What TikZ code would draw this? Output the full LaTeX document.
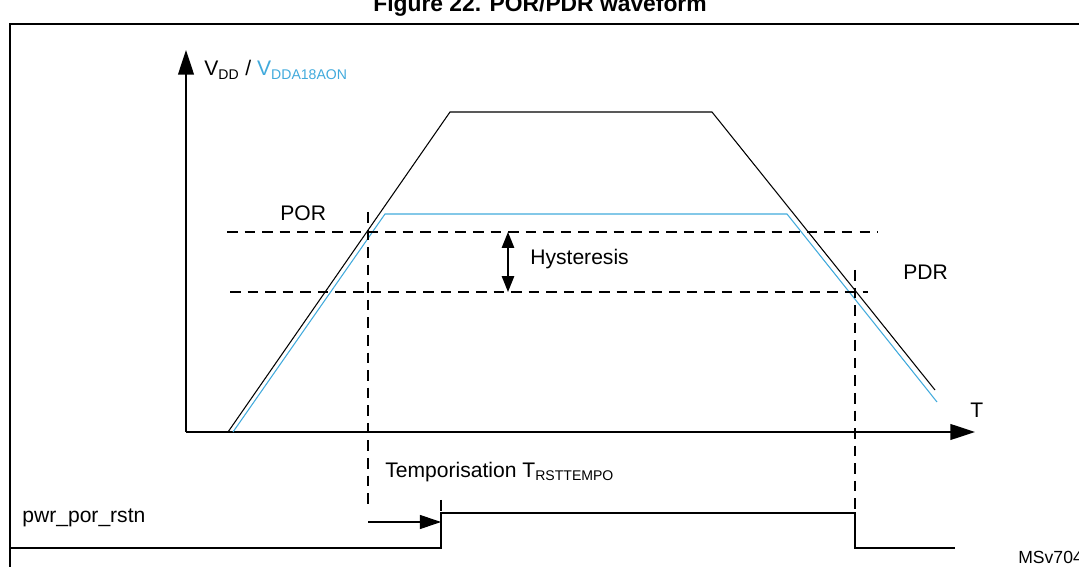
\documentclass[tikz,border=0pt]{standalone}
\usepackage{fontspec}
\setmainfont{Liberation Sans}
\usetikzlibrary{arrows.meta}
\definecolor{vblue}{RGB}{65,170,220}
\begin{document}
\begin{tikzpicture}[x=0.02cm,y=-0.02cm,
  wave/.style={line width=0.6pt},
  dsh/.style={line width=0.6pt,dash pattern=on 6pt off 4pt},
  axis/.style={line width=0.8pt,-{Triangle[length=14pt,width=9pt]}},
  lbl/.style={font=\fontsize{12pt}{14pt}\selectfont,inner sep=0pt}]
\useasboundingbox (0,0) rectangle (1079,567);
\begin{scope}
\clip (0,0) rectangle (1079,567);
\node[font=\bfseries\fontsize{13pt}{15pt}\selectfont] (title) at (540,6) {Figure 22. POR/PDR waveform};
\draw[line width=0.8pt] (10,567) -- (10,24) -- (1079,24);
\end{scope}
\coordinate (o) at (186,432);
\coordinate (ytip) at (186,50);
\coordinate (xtip) at (975,432);
\draw[axis] (o) -- (ytip);
\draw[axis] (o) -- (xtip);
\node[lbl,anchor=west] (vdd) at (204,70) {V\textsubscript{DD} / \textcolor{vblue}{V\textsubscript{DDA18AON}}};
\node[lbl,anchor=west] (T) at (970,410) {T};
% waveforms
\draw[wave] (228,432) -- (450,112) -- (712,112) -- (935,390);
\draw[wave,vblue] (233,432) -- (385,214) -- (787,214) -- (937,402);
% thresholds
\draw[dsh] (227,232) -- (878,232);
\draw[dsh] (230,292) -- (868,292);
\draw[dsh] (368,212) -- (368,508);
\draw[dsh] (855,270) -- (855,548);
\node[lbl,anchor=west] (por) at (280,213) {POR};
\node[lbl,anchor=west] (pdr) at (903,272) {PDR};
\coordinate (h1) at (508,232);
\coordinate (h2) at (508,292);
\draw[line width=0.8pt,{Triangle[length=9pt,width=7pt]}-{Triangle[length=9pt,width=7pt]}] (h1) -- (h2);
\node[lbl,anchor=west] (hys) at (530,259) {Hysteresis};
% temporisation
\node[lbl,anchor=west] (temp) at (385,472) {Temporisation T\textsubscript{RSTTEMPO}};
\coordinate (t1) at (368,522);
\coordinate (t2) at (441,522);
\draw[line width=0.6pt,-{Triangle[length=12pt,width=8pt]}] (t1) -- (t2);
\draw[dsh] (441,500) -- (441,513);
% reset signal
\node[lbl,anchor=west] (rst) at (22,518) {pwr\_por\_rstn};
\draw[wave] (10,548) -- (441,548) -- (441,513) -- (855,513) -- (855,548) -- (955,548);
\node[lbl,anchor=west,font=\fontsize{10pt}{12pt}\selectfont] (ms) at (1018,557) {MSv70454V1};
\end{tikzpicture}
\end{document}
